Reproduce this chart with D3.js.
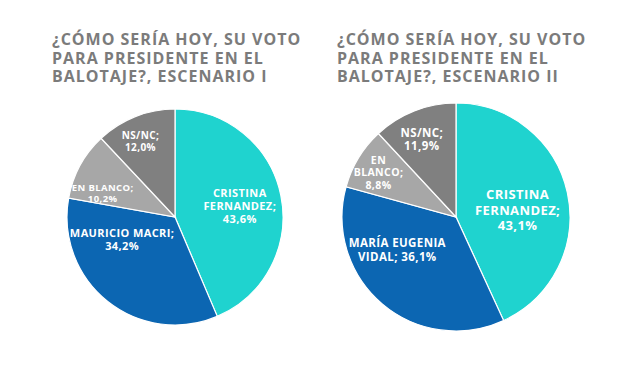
<!DOCTYPE html>
<html>
<head>
<meta charset="utf-8">
<script src="https://cdn.jsdelivr.net/npm/d3@7"></script>
<style>
  body { margin: 0; background: #fff; }
  svg { display: block; font-family: "Open Sans", sans-serif; }
  .title { fill: #7b7b7b; font-weight: 700; font-size: 16px; letter-spacing: 1px; }
  .lbl { fill: #fff; font-weight: 700; text-anchor: middle; letter-spacing: 0.4px; }
</style>
</head>
<body>
<svg id="chart" width="640" height="371"></svg>
<script>
// categories in drawing order (clockwise from 12 o'clock)
var keys = ["cfk", "rival", "blanco", "nsnc"];
var colors = ["#1fd3cf", "#0c66b2", "#a7a7a7", "#808080"];

var titles1 = ["¿CÓMO SERÍA HOY, SU VOTO", "PARA PRESIDENTE EN EL", "BALOTAJE?, ESCENARIO I"];
var values1 = [43.6, 34.2, 10.2, 12.0];
var labels1 = [["CRISTINA", "FERNANDEZ;", "43,6%"], ["MAURICIO MACRI;", "34,2%"], ["EN BLANCO;", "10,2%"], ["NS/NC;", "12,0%"]];

var titles2 = ["¿CÓMO SERÍA HOY, SU VOTO", "PARA PRESIDENTE EN EL", "BALOTAJE?, ESCENARIO II"];
var values2 = [43.1, 36.1, 8.8, 11.9];
var labels2 = [["CRISTINA", "FERNANDEZ;", "43,1%"], ["MARÍA EUGENIA", "VIDAL; 36,1%"], ["EN", "BLANCO;", "8,8%"], ["NS/NC;", "11,9%"]];

var svg = d3.select("#chart");

// layout for each panel: centre, radius, title origin, label offsets (fractions of r) and font sizes
var panels = [
  { cx: 175, cy: 217, r: 108, tx: 52, ty: 45, titles: titles1, values: values1, labels: labels1,
    lpos: [[0.6, -0.1], [-0.49, 0.21], [-0.67, -0.22], [-0.32, -0.7]], fs: [11, 11, 9.5, 10] },
  { cx: 456, cy: 217, r: 114, tx: 337, ty: 45, titles: titles2, values: values2, labels: labels2,
    lpos: [[0.54, -0.06], [-0.515, 0.29], [-0.68, -0.39], [-0.3, -0.68]], fs: [13, 11.5, 10.5, 11.5] }
];

panels.forEach(function(p) {
  var g = svg.append("g");

  g.append("text")
    .attr("class", "title")
    .selectAll("tspan")
    .data(p.titles)
    .enter()
    .append("tspan")
    .attr("x", p.tx)
    .attr("y", function(d, i) { return p.ty + i * 18.5; })
    .text(function(d) { return d; });

  var pie = d3.pie().sort(null).value(function(d) { return d; });
  var arc = d3.arc().innerRadius(0).outerRadius(p.r);

  var pg = g.append("g").attr("transform", "translate(" + p.cx + "," + p.cy + ")");

  pg.selectAll("path")
    .data(pie(p.values))
    .enter()
    .append("path")
    .attr("d", arc)
    .attr("fill", function(d, i) { return colors[i]; })
    .attr("stroke", "#fff")
    .attr("stroke-width", 1.2);

  var x = d3.scaleLinear().domain([-1, 1]).range([-p.r, p.r]);

  p.labels.forEach(function(lines, i) {
    var fs = p.fs[i], lh = fs * 1.2;
    var t = pg.append("text")
      .attr("class", "lbl")
      .style("font-size", fs + "px")
      .attr("transform", "translate(" + x(p.lpos[i][0]) + "," + x(p.lpos[i][1]) + ")");
    lines.forEach(function(s, j) {
      t.append("tspan")
        .attr("x", 0)
        .attr("y", (j - (lines.length - 1) / 2) * lh + fs * 0.35)
        .text(s);
    });
  });
});
</script>
</body>
</html>
